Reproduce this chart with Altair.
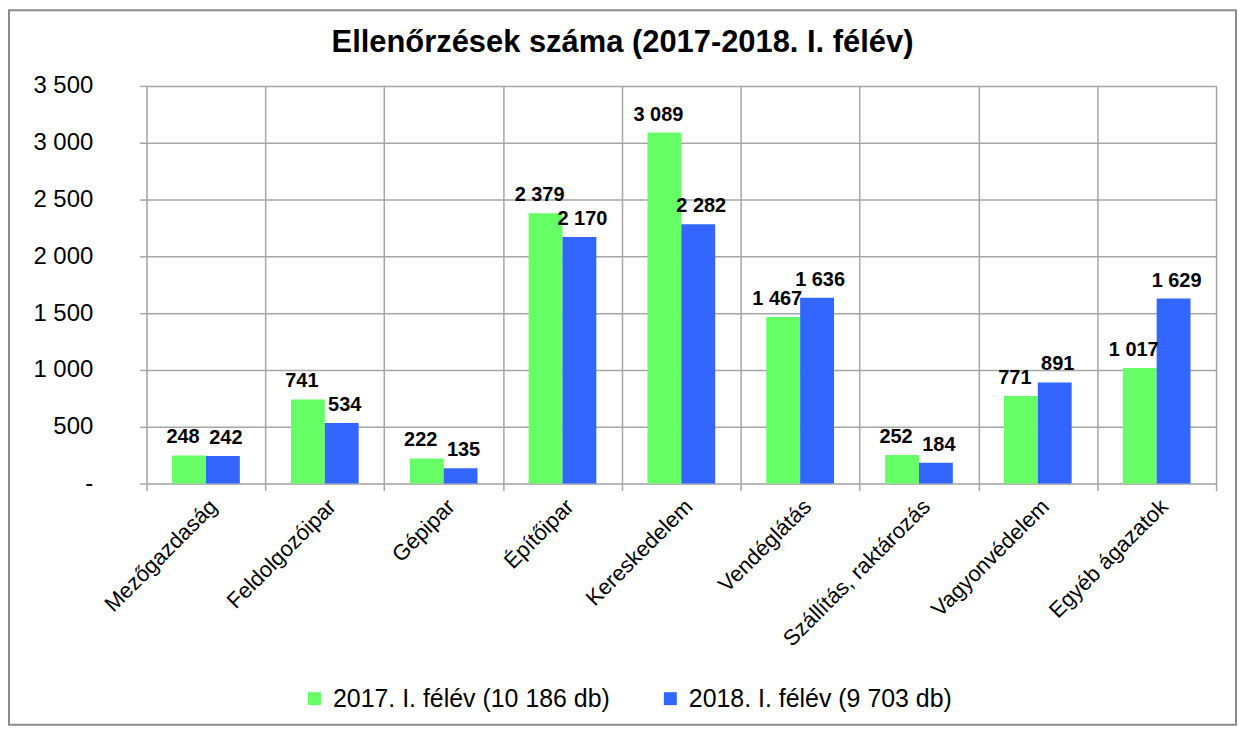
import altair as alt
import pandas as pd

categories = ["Mezőgazdaság", "Feldolgozóipar", "Gépipar", "Építőipar", "Kereskedelem",
              "Vendéglátás", "Szállítás, raktározás", "Vagyonvédelem", "Egyéb ágazatok"]
series_names = ["2017. I. félév (10 186 db)", "2018. I. félév (9 703 db)"]
values_2017 = [248, 741, 222, 2379, 3089, 1467, 252, 771, 1017]
values_2018 = [242, 534, 135, 2170, 2282, 1636, 184, 891, 1629]
y_ticks = [0, 500, 1000, 1500, 2000, 2500, 3000, 3500]
colors = ["#66FF66", "#3366FF"]

rows = []
for c, a, b in zip(categories, values_2017, values_2018):
    rows.append({"cat": c, "series": series_names[0], "value": a})
    rows.append({"cat": c, "series": series_names[1], "value": b})
df = pd.DataFrame(rows)

W, H = 1073, 399
FONT = "Liberation Sans"
GRID = "#a6a6a6"

x_enc = alt.X("cat:N", sort=categories, title=None,
              scale=alt.Scale(paddingInner=0, paddingOuter=0),
              axis=alt.Axis(labelAngle=-45, labelAlign="right", labelBaseline="top",
                            labelFontSize=22, labelPadding=5, labelColor="#000",
                            labelLimit=400,
                            tickBand="extent", tickSize=7, tickColor=GRID,
                            tickWidth=1.5, grid=True, gridColor=GRID,
                            gridWidth=1.5, domain=False, labelFont=FONT))
xo_enc = alt.XOffset("series:N", sort=series_names,
                     scale=alt.Scale(paddingInner=0, paddingOuter=0.755))

base = alt.Chart(df)

bars = base.mark_bar().encode(
    x=x_enc,
    xOffset=xo_enc,
    y=alt.Y("value:Q", title=None,
            scale=alt.Scale(domain=[0, 3500], nice=False),
            axis=alt.Axis(values=y_ticks, labelFontSize=24, labelColor="#000",
                          labelFont=FONT, tickSize=7, tickColor=GRID,
                          tickWidth=1.5, labelPadding=47, gridColor=GRID,
                          gridWidth=1.5, domain=False,
                          labelExpr="datum.value == 0 ? '-' : replace(format(datum.value, ','), ',', ' ')")),
    color=alt.Color("series:N", sort=series_names,
                    scale=alt.Scale(domain=series_names, range=colors),
                    legend=alt.Legend(title=None, orient="none", legendX=156, legendY=602,
                                      direction="horizontal", symbolType="square",
                                      symbolSize=169, symbolStrokeWidth=0,
                                      labelFontSize=25, labelFont=FONT, labelColor="#000",
                                      labelOffset=6, columnPadding=48, labelLimit=500)),
)


def label_layer(series, dx):
    return base.mark_text(fontSize=20, fontWeight="bold", font=FONT, color="#000",
                          baseline="alphabetic", dy=-12, dx=dx).transform_filter(
        alt.datum.series == series
    ).transform_calculate(
        label="replace(format(datum.value, ','), ',', ' ')"
    ).encode(
        x=alt.X("cat:N", sort=categories),
        xOffset=alt.XOffset("series:N", sort=series_names),
        y="value:Q",
        text="label:N",
    )


labels_a = label_layer(series_names[0], -6)
labels_b = label_layer(series_names[1], 3)

border = alt.Chart(pd.DataFrame({"k": [0]})).mark_rect(
    filled=False, stroke="#8c8c8c", strokeWidth=2
).encode(
    x=alt.value(-138), x2=alt.value(W + 20),
    y=alt.value(-76), y2=alt.value(H + 242),
)

chart = alt.layer(bars, labels_a, labels_b, border).properties(
    width=W, height=H,
    padding=0,
    title=alt.Title("Ellenőrzések száma (2017-2018. I. félév)", fontSize=31,
                    fontWeight="bold", font=FONT, color="#000", anchor="middle",
                    frame="bounds", offset=-50),
).configure_view(stroke=GRID, strokeWidth=1.5).configure(background="white")

chart.save("out.html", embed_options={"renderer": "svg", "actions": False})
